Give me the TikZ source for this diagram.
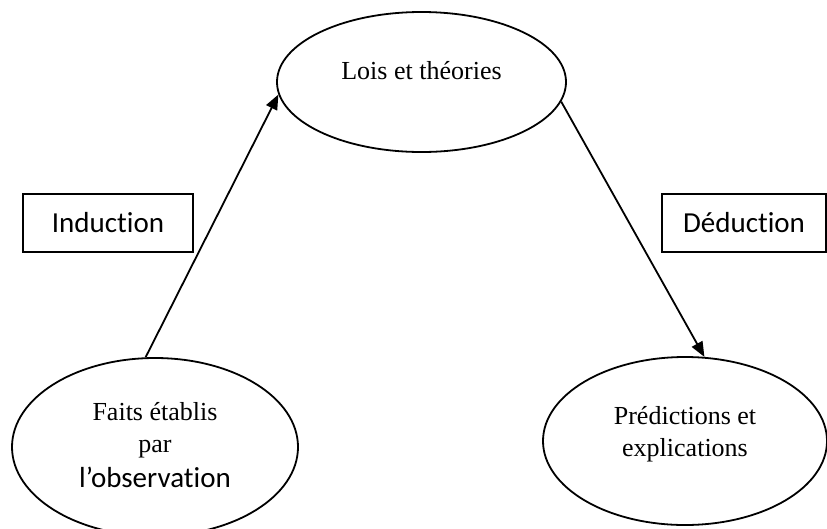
\documentclass[tikz,border=0pt]{standalone}
\usepackage{fontspec}
\setmainfont{Liberation Serif}
\newfontfamily\calibri[Ligatures=NoCommon]{Carlito}
\usetikzlibrary{shapes.geometric,arrows.meta}

\begin{document}
\begin{tikzpicture}[x=1pt, y=1pt,
    bulle/.style={ellipse, draw=black, line width=1.8pt, inner sep=0pt},
    texte/.style={draw=none, align=center, font=\fontsize{26}{32}\selectfont},
    cadre/.style={rectangle, draw=black, line width=1.6pt, minimum height=58pt, font=\calibri\fontsize{29}{34}\selectfont},
    fleche/.style={draw=black, line width=1.8pt, -{Triangle[length=15pt,width=12pt]}}]
			\useasboundingbox (0,0) rectangle (827,-528);
			\node[bulle, minimum width=289pt, minimum height=140pt] (lois) at (421.5,-82){};
			\node[bulle, minimum width=286pt, minimum height=178pt] (faits) at (155,-447){};
			\node[bulle, minimum width=284pt, minimum height=168pt] (pred) at (685,-441){};
			
			\node[texte] (loistxt) at (421.5,-71){Lois et théories};
			\node[texte] (faitstxt) at (155,-445){Faits établis\\par\\[3pt]{\calibri\fontsize{29}{33}\selectfont l’observation}};
			\node[texte] (predtxt) at (685,-434){Prédictions et\\explications};
			
			\node[cadre, minimum width=170pt] (ind) at (108,-223){Induction};
			\node[cadre, minimum width=164pt] (ded) at (744,-223){Déduction};
			
			\path (faits.96) edge[fleche] (lois.185);
			\path (lois.352) edge[fleche] (pred.77);
\end{tikzpicture}
\end{document}
